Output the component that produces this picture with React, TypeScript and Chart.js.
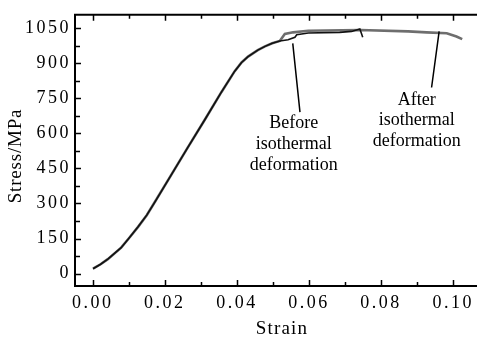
import React, { useEffect, useRef } from "react";
import { Chart, registerables } from "chart.js";

Chart.register(...registerables);

// Shared elastic part (both curves overlap)
const sharedStrain = [0.0001, 0.0022, 0.0042, 0.0079, 0.01, 0.0126, 0.015, 0.0172, 0.0218, 0.0264, 0.0311, 0.0357, 0.0394, 0.0413, 0.0431, 0.0458, 0.0478, 0.0498, 0.0519];
const sharedStress = [21, 40, 62, 111, 150, 200, 250, 305, 422, 540, 658, 776, 866, 903, 928, 956, 972, 985, 995];

// Before isothermal deformation (tail)
const beforeStrain = [0.0542, 0.0561, 0.0566, 0.0598, 0.0685, 0.0718, 0.0741, 0.0746, 0.0749];
const beforeStress = [1000, 1011, 1022, 1029, 1032, 1036, 1046, 1025, 1011];

// After isothermal deformation (tail)
const afterStrain = [0.0533, 0.0556, 0.0598, 0.0741, 0.0875, 0.0926, 0.0982, 0.1009, 0.1025];
const afterStress = [1025, 1032, 1039, 1042, 1036, 1032, 1028, 1014, 1003];

const xMajorTicks = [0, 0.02, 0.04, 0.06, 0.08, 0.1];
const xMinorTicks = [0.01, 0.03, 0.05, 0.07, 0.09];
const yMajorTicks = [0, 150, 300, 450, 600, 750, 900, 1050];
const yMinorTicks = [75, 225, 375, 525, 675, 825, 975];

const X_MIN = -0.0049;
const X_MAX = 0.1066;
const Y_MIN = -53;
const Y_MAX = 1107;

const FONT = "'Liberation Serif', 'Times New Roman', serif";

function toPoints(xs: number[], ys: number[]) {
  return xs.map((x, i) => ({ x, y: ys[i] }));
}

const decor = {
  id: "decor",
  beforeDraw(chart: any) {
    chart.ctx.letterSpacing = "2.5px";
  },
  beforeDatasetsDraw(chart: any) {
    chart.ctx.letterSpacing = "0px";
  },
  afterDraw(chart: any) {
    const { ctx, chartArea } = chart;
    const xs = chart.scales.x;
    const ys = chart.scales.y;
    ctx.save();
    ctx.letterSpacing = "0px";
    ctx.strokeStyle = "#000";
    ctx.lineCap = "butt";
    // top border
    ctx.lineWidth = 2;
    ctx.beginPath();
    ctx.moveTo(chartArea.left - 1, chartArea.top);
    ctx.lineTo(chartArea.right, chartArea.top);
    ctx.stroke();
    // ticks
    ctx.lineWidth = 1.5;
    const drawX = (v: number, len: number) => {
      const px = Math.round(xs.getPixelForValue(v)) + 0.5;
      ctx.beginPath();
      ctx.moveTo(px, chartArea.bottom);
      ctx.lineTo(px, chartArea.bottom - len);
      ctx.moveTo(px, chartArea.top);
      ctx.lineTo(px, chartArea.top + len);
      ctx.stroke();
    };
    const drawY = (v: number, len: number) => {
      const py = Math.round(ys.getPixelForValue(v)) + 0.5;
      ctx.beginPath();
      ctx.moveTo(chartArea.left, py);
      ctx.lineTo(chartArea.left + len, py);
      ctx.stroke();
    };
    xMajorTicks.forEach((v) => drawX(v, 6));
    xMinorTicks.forEach((v) => drawX(v, 4));
    yMajorTicks.forEach((v) => drawY(v, 6));
    yMinorTicks.forEach((v) => drawY(v, 5));

    // leader lines
    ctx.lineWidth = 1.5;
    ctx.beginPath();
    ctx.moveTo(xs.getPixelForValue(0.0555), ys.getPixelForValue(985));
    ctx.lineTo(xs.getPixelForValue(0.0575), ys.getPixelForValue(691));
    ctx.moveTo(xs.getPixelForValue(0.0961), ys.getPixelForValue(1036));
    ctx.lineTo(xs.getPixelForValue(0.094), ys.getPixelForValue(796));
    ctx.stroke();

    // annotation text
    ctx.fillStyle = "#000";
    ctx.font = `18px ${FONT}`;
    ctx.textAlign = "center";
    ctx.textBaseline = "middle";
    const bx = xs.getPixelForValue(0.0558);
    ctx.fillText("Before", bx, ys.getPixelForValue(645));
    ctx.fillText("isothermal", bx, ys.getPixelForValue(554));
    ctx.fillText("deformation", bx, ys.getPixelForValue(463));
    const ax = xs.getPixelForValue(0.0899);
    ctx.fillText("After", ax, ys.getPixelForValue(741));
    ctx.fillText("isothermal", ax, ys.getPixelForValue(654));
    ctx.fillText("deformation", ax, ys.getPixelForValue(567));

    // axis titles
    ctx.font = `19px ${FONT}`;
    ctx.letterSpacing = "1.2px";
    ctx.fillText("Strain", 282, 329);
    ctx.letterSpacing = "0.8px";
    ctx.translate(16.5, 156);
    ctx.rotate(-Math.PI / 2);
    ctx.fillText("Stress/MPa", 0, 0);
    ctx.restore();
  },
};

export default function App() {
  const ref = useRef<HTMLCanvasElement | null>(null);
  useEffect(() => {
    if (!ref.current) return;
    const chart = new Chart(ref.current, {
      type: "line",
      data: {
        datasets: [
          {
            label: "Before isothermal deformation",
            data: toPoints([...sharedStrain, ...beforeStrain], [...sharedStress, ...beforeStress]),
            borderColor: "#111",
            borderWidth: 1.6,
            pointRadius: 0,
            tension: 0,
          },
          {
            label: "After isothermal deformation",
            data: toPoints([...sharedStrain, ...afterStrain], [...sharedStress, ...afterStress]),
            borderColor: "#6e6e6e",
            borderWidth: 2.6,
            pointRadius: 0,
            tension: 0,
          },
        ],
      },
      options: {
        animation: false,
        responsive: false,
        maintainAspectRatio: false,
        layout: { padding: { top: 7, right: 0, left: 0, bottom: 0 } },
        plugins: { legend: { display: false }, tooltip: { enabled: false } },
        scales: {
          x: {
            type: "linear",
            min: X_MIN,
            max: X_MAX,
            afterBuildTicks: (s: any) => {
              s.ticks = xMajorTicks.map((v) => ({ value: v }));
            },
            afterFit: (s: any) => {
              s.height = 54;
            },
            grid: { display: false, drawTicks: false },
            border: { display: true, color: "#000", width: 2 },
            ticks: {
              autoSkip: false,
              maxRotation: 0,
              padding: 6,
              color: "#000",
              font: { family: FONT, size: 18 },
              callback: (v: any) => Number(v).toFixed(2),
            },
          },
          y: {
            type: "linear",
            min: Y_MIN,
            max: Y_MAX,
            afterBuildTicks: (s: any) => {
              s.ticks = yMajorTicks.map((v) => ({ value: v }));
            },
            afterFit: (s: any) => {
              s.width = 75;
            },
            grid: { display: false, drawTicks: false },
            border: { display: true, color: "#000", width: 2 },
            ticks: {
              autoSkip: false,
              padding: 4,
              color: "#000",
              font: { family: FONT, size: 18 },
              callback: (v: any) => String(v),
            },
          },
        },
      },
      plugins: [decor],
    });
    return () => chart.destroy();
  }, []);
  return (
    <div style={{ position: "absolute", left: 0, top: 0, width: 477, height: 340, background: "#fff" }}>
      <canvas ref={ref} width={477} height={340} style={{ width: 477, height: 340, display: "block" }} />
    </div>
  );
}
